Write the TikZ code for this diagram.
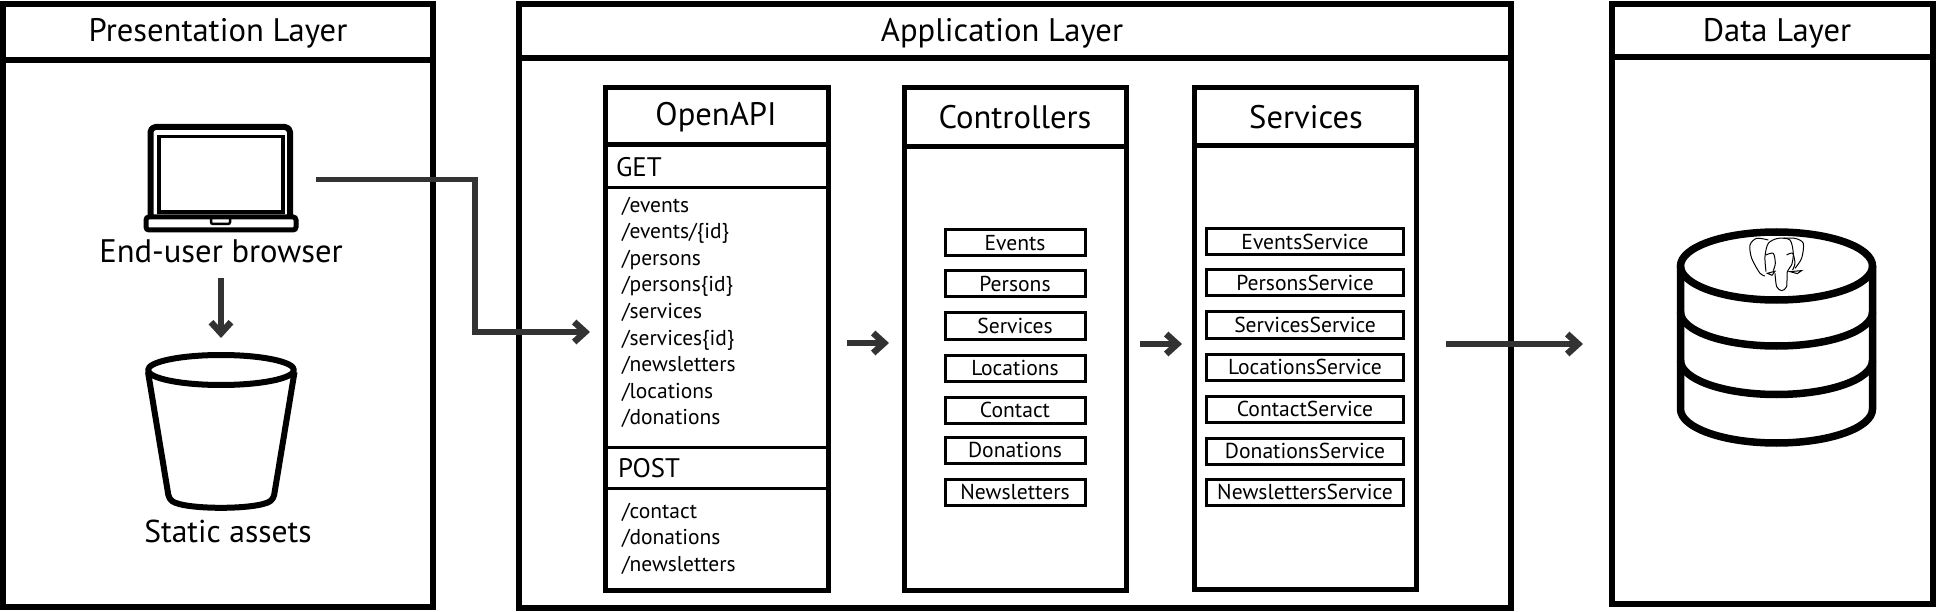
\documentclass[tikz,border=0pt]{standalone}
\usepackage{fontspec}
\setmainfont{PT Sans}
\usetikzlibrary{arrows.meta,positioning}

\begin{document}
\begin{tikzpicture}
  [x=1pt,y=-1pt,
   outer sep=0pt,
   frame/.style={draw,line width=5.5pt,anchor=north west,inner sep=0pt},
   panel/.style={draw,line width=5pt,anchor=north west,inner sep=0pt},
   band/.style={draw,line width=3pt,anchor=north west,inner sep=0pt},
   item/.style={draw,line width=3pt,minimum height=26pt},
   title/.style={font=\fontsize{32.6}{38}\selectfont},
   verb/.style={font=\fontsize{26.8}{32}\selectfont,anchor=base west,inner sep=0pt},
   route/.style={font=\fontsize{21.5}{26}\selectfont,anchor=base west,inner sep=0pt},
   entry/.style={font=\fontsize{21.6}{26}\selectfont},
   flow/.style={-{Straight Barb[length=11pt,width=20pt,line width=6.5pt]},draw=black!80,line width=5.3pt},
   icon/.style={line width=6pt,line join=round},
   barrel/.style={line width=7.5pt}]

  \useasboundingbox (0,0) rectangle (1938,612);

  % layers
  \node[frame,minimum width=430pt,minimum height=603pt] (presentation) at (3,4) {};
  \node[frame,minimum width=430pt,minimum height=56pt]  (presentation head) at (3,4) {};
  \node[frame,minimum width=992pt,minimum height=604pt] (application) at (519,4) {};
  \node[frame,minimum width=992pt,minimum height=54pt]  (application head) at (519,4) {};
  \node[frame,minimum width=321pt,minimum height=600pt] (data) at (1612,4) {};
  \node[frame,minimum width=321pt,minimum height=53pt]  (data head) at (1612,4) {};

  \node[title] (presentation title) at (218,33) {Presentation Layer};
  \node[title] (application title)  at (1002,33) {Application Layer};
  \node[title] (data title)         at (1777,33) {Data Layer};

  % inner panels
  \node[panel,minimum width=223pt,minimum height=502pt] (openapi) at (605,88) {};
  \node[panel,minimum width=223pt,minimum height=57pt]  (openapi head) at (605,88) {};
  \node[band,minimum width=223pt,minimum height=43pt]   (get band) at (605,145) {};
  \node[band,minimum width=223pt,minimum height=41pt]   (post band) at (605,447) {};
  \node[panel,minimum width=222pt,minimum height=502pt] (controllers) at (904,88) {};
  \node[panel,minimum width=222pt,minimum height=59pt]  (controllers head) at (904,88) {};
  \node[panel,minimum width=222pt,minimum height=501pt] (services) at (1194,88) {};
  \node[panel,minimum width=222pt,minimum height=58pt]  (services head) at (1194,88) {};

  \node[title] (openapi title)     at (716,117)  {OpenAPI};
  \node[title] (controllers title) at (1015,117) {Controllers};
  \node[title] (services title)    at (1306,117) {Services};

  \node[verb] (get label)  at (616,177) {GET};
  \node[verb] (post label) at (618,477) {POST};

  % routes
  \foreach \label [count=\i] in {/events,/events/\{id\},/persons,/persons\{id\},/services,/services\{id\},/newsletters,/locations,/donations}
    \node[route] (get route \i) at (622,185.5+26.6*\i) {\label};
  \foreach \label [count=\i] in {/contact,/donations,/newsletters}
    \node[route] (post route \i) at (622,491.5+26.5*\i) {\label};

  % lists
  \foreach \label/\ypos [count=\i] in {Events/243,Persons/284,Services/326,Locations/368,Contact/410,Donations/450,Newsletters/492}
    \node[item,entry,minimum width=140pt] (controller \i) at (1015,\ypos) {\label};
  \foreach \label/\ypos [count=\i] in {EventsService/242,PersonsService/283,ServicesService/325,LocationsService/367,ContactService/409,DonationsService/451,NewslettersService/492}
    \node[item,entry,minimum width=197pt] (service \i) at (1305,\ypos) {\label};

  % laptop
  \draw[icon,rounded corners=5pt] (150.5,215) -- (150.5,127) -- (290,127) -- (290,215);
  \draw[line width=3.5pt] (159,136.5) rectangle (283,212);
  \draw[line width=5pt,rounded corners=3pt] (146,217) rectangle (296,230);
  \draw[line width=2.5pt,rounded corners=2pt] (211,219) -- (211,224) -- (230,224) -- (230,219);
  \node[title] (browser) at (221,251) {End-user browser};

  % bucket
  \draw[icon] (221,370) ellipse (73 and 15);
  \draw[icon,rounded corners=4pt] (148,372) -- (169,499) .. controls (185,510) and (257,510) .. (273.5,499) -- (294.5,372);
  \node[title,font=\fontsize{31.6}{38}\selectfont] (assets) at (228,531) {Static assets};

  % database
  \draw[barrel] (1776.5,266) ellipse (96 and 34);
  \draw[barrel] (1680.5,266) -- (1680.5,409) arc[start angle=180,end angle=0,x radius=96,y radius=34] -- (1872.5,266);
  \foreach \ypos in {312,360.5}
    \draw[barrel] (1680.5,\ypos) arc[start angle=180,end angle=0,x radius=96,y radius=34];

  % elephant
  \begin{scope}[shift={(1740,230)},x=.333pt,y=-.333pt,line width=1pt]
    \draw plot[smooth] coordinates {(85,30) (50,25) (30,45) (35,85) (60,130) (75,138)};
    \draw plot[smooth] coordinates {(130,25) (165,25) (190,40) (185,85) (165,115)};
    \draw plot[smooth] coordinates {(78,125) (75,80) (85,40) (115,25) (150,30) (160,70) (155,105) (142,125) (140,170) (125,182) (110,170) (105,130)};
    \draw plot[smooth] coordinates {(78,75) (100,70) (106,100) (100,122)};
    \draw plot[smooth] coordinates {(140,75) (158,70) (165,100) (158,120)};
    \draw (82,130) -- (105,124) -- (96,136) -- cycle;
    \draw (150,125) -- (185,122) -- (172,131) -- cycle;
  \end{scope}

  % connectors
  \coordinate (browser out) at (316,179.5);
  \coordinate (route bend) at (475,332);
  \coordinate (api in) at (590,332);
  \coordinate (browser down) at (221,278);
  \coordinate (assets in) at (221,338);
  \coordinate (openapi out) at (847,343);
  \coordinate (controllers in) at (889,343);
  \coordinate (controllers out) at (1140,344);
  \coordinate (services in) at (1182,344);
  \coordinate (services out) at (1446,344);
  \coordinate (data in) at (1583,344);

  \draw[flow] (browser out) -| (route bend) -- (api in);
  \draw[flow] (browser down) -- (assets in);
  \draw[flow] (openapi out) -- (controllers in);
  \draw[flow] (controllers out) -- (services in);
  \draw[flow] (services out) -- (data in);
\end{tikzpicture}
\end{document}
